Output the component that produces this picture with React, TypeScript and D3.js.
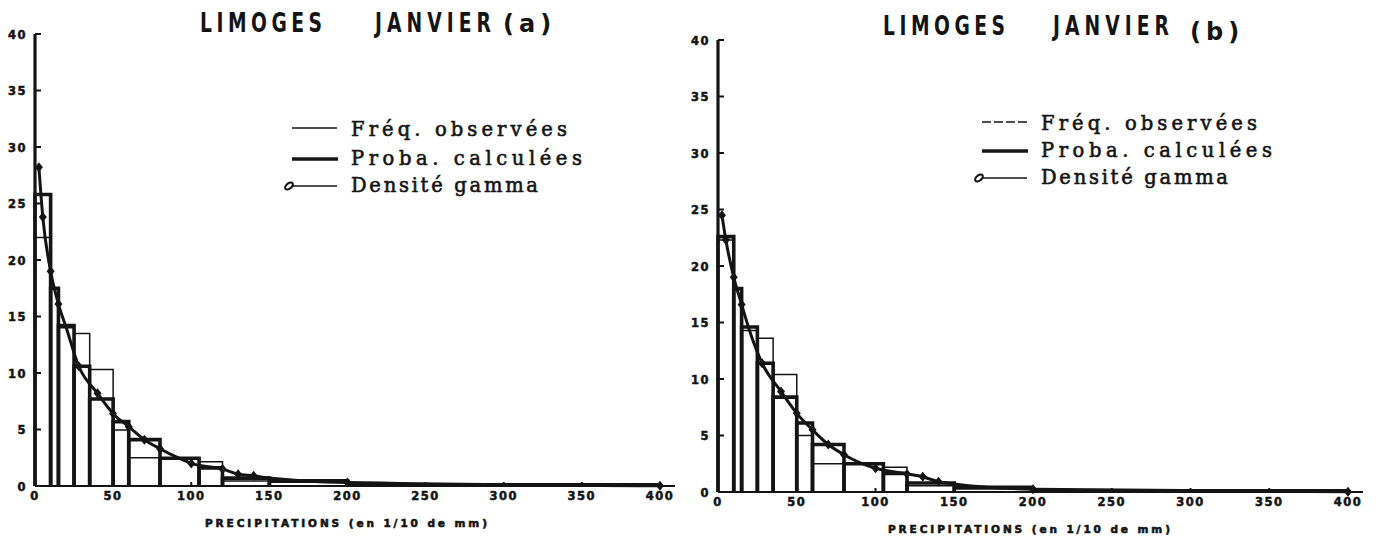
import { scaleLinear, line, curveMonotoneX } from "d3";

// bins (1/10 mm) shared by both panels
const binEdges = [0, 10, 15, 25, 35, 50, 60, 80, 105, 120, 150, 200, 400];
const xTicks = [0, 50, 100, 150, 200, 250, 300, 350, 400];
const yTicks = [0, 5, 10, 15, 20, 25, 30, 35, 40];

// panel (a)
const obsA = [22.0, 17.5, 14.0, 13.5, 10.3, 4.95, 2.5, 2.5, 2.15, 0.45, 0.55, 0.06];
const calcA = [25.8, 17.5, 14.2, 10.6, 7.7, 5.7, 4.1, 2.45, 1.6, 0.7, 0.42, 0.1];
const gammaXA = [2.5, 5, 10, 15, 20, 28, 40, 50, 60, 70, 80, 90, 100, 120, 130, 140, 150, 200, 400];
const gammaYA = [28.2, 23.8, 19.0, 16.1, 14.0, 10.6, 8.2, 6.4, 5.25, 4.1, 3.3, 2.6, 2.0, 1.5, 1.05, 0.9, 0.7, 0.3, 0.02];

// panel (b)
const obsB = [22.3, 18.0, 14.3, 13.6, 10.4, 5.0, 2.5, 2.5, 2.2, 0.55, 0.5, 0.06];
const calcB = [22.6, 18.0, 14.6, 11.4, 8.4, 6.1, 4.2, 2.5, 1.65, 0.8, 0.35, 0.1];
const gammaXB = [2.5, 5, 10, 15, 20, 28, 40, 50, 60, 70, 80, 90, 100, 120, 130, 140, 150, 200, 400];
const gammaYB = [24.5, 22.3, 19.0, 16.6, 14.3, 11.4, 8.9, 6.96, 5.5, 4.2, 3.3, 2.6, 2.1, 1.6, 1.35, 0.9, 0.7, 0.25, 0.02];

const markedX = [2.5, 5, 10, 15, 28, 40, 50, 60, 70, 80, 100, 120, 130, 140, 200, 400];

const legendLabels = ["Fréq. observées", "Proba. calculées", "Densité gamma"];
const legendWidths = [216, 231, 187];
const titleWords = ["LIMOGES", "JANVIER"];
const xLabel = "PRECIPITATIONS (en 1/10 de mm)";

const ink = "#141414";
const tickFont = "'DejaVu Sans', 'Liberation Sans', sans-serif";
const squeeze = 0.72;

type PanelProps = {
  left: number;
  right: number;
  bottom: number;
  top: number;
  obs: number[];
  calc: number[];
  gx: number[];
  gy: number[];
  letter: string;
  titleY: number;
  titleX: number;
  legendX: number;
  legendY: number[];
  dashedObs?: boolean;
};

function Panel(p: PanelProps) {
  const x = scaleLinear().domain([0, 400]).range([p.left, p.right]);
  const y = scaleLinear().domain([0, 40]).range([p.bottom, p.top]);
  const pts = p.gx.map((v, i) => [v, p.gy[i]] as [number, number]);
  const curve = line<[number, number]>()
    .x((d) => x(d[0]))
    .y((d) => y(d[1]))
    .curve(curveMonotoneX);

  const box = (i: number, h: number) =>
    `M${x(binEdges[i])},${y(0)} V${y(h)} H${x(binEdges[i + 1])} V${y(0)}`;

  const lx = p.legendX;
  const isA = p.letter === "a";
  const jx = p.titleX + (isA ? 175 : 170);
  return (
    <g>
      {/* title */}
      <g fontFamily="'DejaVu Sans', sans-serif" fontWeight="bold" fill={ink}>
        <text
          transform={`translate(${p.titleX},${p.titleY}) scale(${squeeze},1)`}
          fontSize={26}
          textLength={122 / squeeze}
          lengthAdjust="spacing"
        >
          {titleWords[0]}
        </text>
        <text
          transform={`translate(${jx},${p.titleY}) scale(${squeeze},1)`}
          fontSize={26}
          textLength={116 / squeeze}
          lengthAdjust="spacing"
        >
          {titleWords[1]}
        </text>
        <text
          x={p.titleX + (isA ? 303 : 307)}
          y={p.titleY + (isA ? 0 : 5)}
          fontSize={24}
          letterSpacing={5}
        >
          ({p.letter})
        </text>
      </g>

      {/* observed frequencies (thin) */}
      {p.obs.map((h, i) => (
        <path key={"o" + i} d={box(i, h)} fill="none" stroke={ink} strokeWidth={1.5} />
      ))}
      {/* calculated probabilities (thick) */}
      {p.calc.map((h, i) => (
        <path key={"c" + i} d={box(i, h)} fill="none" stroke={ink} strokeWidth={3.6} />
      ))}

      {/* gamma density */}
      <path d={curve(pts) ?? ""} fill="none" stroke={ink} strokeWidth={3} />
      {pts
        .filter((d) => markedX.includes(d[0]))
        .map((d, i) => (
          <path
            key={"m" + i}
            transform={`translate(${x(d[0])},${y(d[1])})`}
            d="M0,-5 L4,0 L0,5 L-4,0 Z"
            fill={ink}
          />
        ))}

      {/* axes */}
      <line x1={x(0)} x2={x(0)} y1={y(0)} y2={y(40)} stroke={ink} strokeWidth={3.2} />
      <line x1={x(0)} x2={x(400) + 15} y1={y(0)} y2={y(0)} stroke={ink} strokeWidth={2.2} />
      {yTicks.map((t) => (
        <g key={"y" + t}>
          <line x1={x(0)} x2={x(0) + 6} y1={y(t)} y2={y(t)} stroke={ink} strokeWidth={2} />
          <text
            x={x(0) - 8}
            y={y(t) + 4.5}
            textAnchor="end"
            fontFamily={tickFont}
            fontWeight="bold"
            fontSize={11.5}
            letterSpacing={1.5}
            stroke={ink}
            strokeWidth={0.5}
            fill={ink}
          >
            {t}
          </text>
        </g>
      ))}
      {xTicks.map((t) => (
        <g key={"x" + t}>
          <line x1={x(t)} x2={x(t)} y1={y(0)} y2={y(0) - 4} stroke={ink} strokeWidth={2} />
          <text
            x={x(t)}
            y={y(0) + 14}
            textAnchor="middle"
            fontFamily={tickFont}
            fontWeight="bold"
            fontSize={11.5}
            letterSpacing={1.5}
            stroke={ink}
            strokeWidth={0.5}
            fill={ink}
          >
            {t}
          </text>
        </g>
      ))}
      <text
        x={x(0) + 170}
        y={y(0) + 41}
        fontFamily={tickFont}
        fontWeight="bold"
        fontSize={10.5}
        textLength={282}
        lengthAdjust="spacing"
        stroke={ink}
        strokeWidth={0.6}
        fill={ink}
      >
        {xLabel}
      </text>

      {/* legend */}
      <g fontFamily="'DejaVu Serif', 'Liberation Serif', serif" fontSize={19.5} fill={ink}>
        <line
          x1={lx}
          x2={lx + 45}
          y1={p.legendY[0] - 8}
          y2={p.legendY[0] - 8}
          stroke={ink}
          strokeWidth={1.4}
          strokeDasharray={p.dashedObs ? "9 3" : undefined}
        />
        <line x1={lx} x2={lx + 46} y1={p.legendY[1] - 6} y2={p.legendY[1] - 6} stroke={ink} strokeWidth={3.6} />
        <line x1={lx} x2={lx + 45} y1={p.legendY[2] - 6} y2={p.legendY[2] - 6} stroke={ink} strokeWidth={1.6} />
        <ellipse
          cx={lx - 3}
          cy={p.legendY[2] - 6}
          rx={4.5}
          ry={2.6}
          transform={`rotate(-40 ${lx - 3} ${p.legendY[2] - 6})`}
          fill="#fff"
          stroke={ink}
          strokeWidth={2.2}
        />
        {legendLabels.map((s, i) => (
          <text
            key={s}
            x={lx + 59}
            y={p.legendY[i]}
            textLength={legendWidths[i]}
            lengthAdjust="spacing"
            stroke={ink}
            strokeWidth={0.6}
          >
            {s}
          </text>
        ))}
      </g>
    </g>
  );
}

export default function App() {
  return (
    <svg
      width={1379}
      height={539}
      viewBox="0 0 1379 539"
      style={{ position: "absolute", left: 0, top: 0, background: "#fff" }}
    >
      <rect width={1379} height={539} fill="#fff" />
      <Panel
        left={35}
        right={660}
        bottom={486}
        top={34}
        obs={obsA}
        calc={calcA}
        gx={gammaXA}
        gy={gammaYA}
        letter="a"
        titleX={200}
        titleY={32}
        legendX={292}
        legendY={[136, 165, 192]}
      />
      <Panel
        left={718}
        right={1348}
        bottom={492}
        top={40}
        obs={obsB}
        calc={calcB}
        gx={gammaXB}
        gy={gammaYB}
        letter="b"
        titleX={883}
        titleY={35}
        legendX={982}
        legendY={[130, 157, 184]}
        dashedObs
      />
    </svg>
  );
}
